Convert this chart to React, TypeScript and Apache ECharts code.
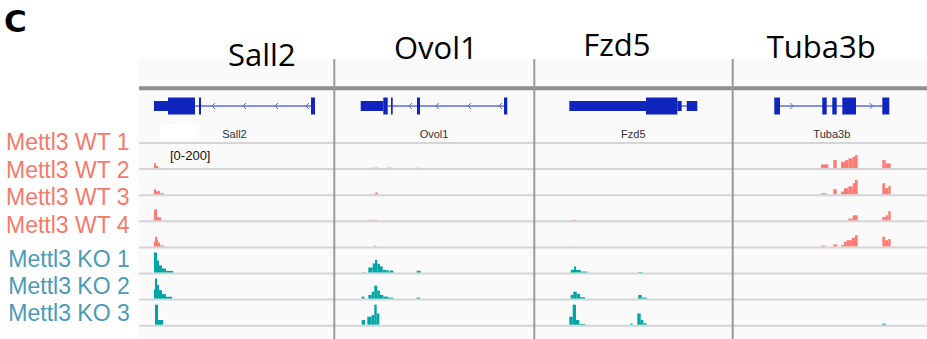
import React, { useEffect, useRef } from "react";
import * as echarts from "echarts";

// ---------- data ----------
const geneNames = ["Sall2", "Ovol1", "Fzd5", "Tuba3b"];
const trackLabels = [
  "Mettl3 WT 1", "Mettl3 WT 2", "Mettl3 WT 3", "Mettl3 WT 4",
  "Mettl3 KO 1", "Mettl3 KO 2", "Mettl3 KO 3",
];
const trackGroups = ["WT", "WT", "WT", "WT", "KO", "KO", "KO"];
const dataRangeLabel = "[0-200]";
const dataRangeMax = 200;
const locusBins = [195, 200, 198, 195];

// exons: [start, end, kind] kind 1 = UTR, 2 = CDS
const sall2Exons = [[15, 29, 1], [29, 56, 2], [60, 62, 2], [172, 176, 2]];
const ovol1Exons = [[26.7, 49.3, 1], [49.3, 53.7, 2], [57, 58.7, 2], [83, 86, 2], [170, 173.3, 2]];
const fzd5Exons = [[35.3, 112, 1], [112, 143.3, 2], [143.3, 147.7, 1], [152.7, 163.3, 1]];
const tuba3bExons = [[42.3, 48, 2], [90.3, 94.7, 2], [100.3, 104.7, 2], [110.3, 124, 2], [150.3, 157.3, 2]];
const geneIntrons = [[56, 172], [53.7, 170], [147.7, 152.7], [48, 150.3]];
const geneStrands = [-1, -1, -1, 1];
const sall2Arrows = [74, 105, 137, 168];
const ovol1Arrows = [76, 102.7, 135, 166];
const fzd5Arrows: number[] = [];
const tuba3bArrows = [60.3, 139.7];

// coverage: per track, [binStart, binEnd, value]
const sall2Coverage = [
  [[15, 17, 44], [17, 19, 23], [19, 22, 11]],
  [[15, 17, 46], [17, 21, 31], [21, 25, 15], [26, 28, 8]],
  [[15, 18, 92], [18, 22, 31]],
  [[15, 16, 46], [16, 18, 82], [18, 19, 61], [19, 21, 38], [21, 25, 15]],
  [[15, 18, 161], [18, 20, 100], [20, 23, 62], [23, 27, 38], [27, 34, 20]],
  [[9, 10, 8], [15, 16, 77], [16, 18, 161], [18, 20, 112], [20, 23, 72], [23, 27, 42], [27, 33, 22]],
  [[9, 11, 8], [16, 19, 161], [19, 24, 44], [26, 29, 8]],
];
const ovol1Coverage = [
  [[35, 37, 11], [38.7, 44, 11], [52.7, 57.7, 11], [82.7, 84.7, 11]],
  [[35, 38.3, 10], [40.3, 41.7, 15], [41.7, 43, 23], [43, 44.3, 15]],
  [[35, 37, 11], [38.7, 43.3, 11]],
  [[35, 40.3, 8], [40.3, 41.7, 15], [41.7, 49.3, 8]],
  [[29.3, 31.7, 11], [34.3, 38.7, 46], [38.7, 41, 77], [41, 43.3, 105], [43.3, 46, 74], [46, 48.7, 54], [48.7, 52.7, 28], [52.7, 55.3, 23], [56, 59.3, 23], [82.7, 86.7, 21]],
  [[27.7, 30.3, 23], [30.3, 33.3, 8], [34.3, 37.7, 36], [37.7, 40.3, 61], [40.3, 43.3, 107], [43.3, 46, 69], [46, 49.3, 36], [49.3, 54.3, 23], [54.3, 59.3, 15], [82.7, 86, 15]],
  [[27.7, 31, 44], [31, 33.3, 8], [33.3, 37.7, 69], [37.7, 40.3, 82], [40.3, 42.7, 161], [42.7, 45.3, 94]],
];
const fzd5Coverage = [
  [],
  [],
  [[37.7, 42.7, 11]],
  [[41, 42.7, 11]],
  [[36.7, 40, 28], [40, 42, 54], [42, 46.7, 28], [46.7, 53.3, 15], [104.3, 108.7, 11]],
  [[36.7, 39.3, 36], [39.3, 42.7, 61], [42.7, 46, 44], [46, 51, 18], [104.3, 107.7, 36], [107.7, 112.7, 15]],
  [[35.3, 38.7, 69], [38.7, 42, 161], [42, 45.3, 44], [45.3, 51, 13], [96, 98.7, 15], [103.3, 106.7, 94], [106.7, 109.3, 44], [109.3, 112.7, 18]],
];
const tuba3bCoverage = [
  [[89, 96.3, 36], [101.3, 104.7, 69], [109, 113, 56], [113, 116.3, 69], [116.3, 120.7, 82], [120.7, 123, 94], [123, 125.7, 107], [150.3, 153.7, 69], [153.7, 158.7, 44]],
  [[89, 94.7, 15], [101.3, 104.7, 46], [109, 112, 28], [112, 116.3, 54], [116.3, 120.7, 67], [120.7, 123, 92], [123, 125.7, 117], [150.3, 153, 92], [153, 156.3, 54], [156.3, 158.7, 71]],
  [[116.3, 120.7, 21], [120.7, 125.7, 46], [150.3, 153.7, 33], [153.7, 156.3, 46], [156.3, 158.7, 77]],
  [[89, 94, 13], [101.3, 105.3, 23], [109, 112, 18], [112, 114.7, 44], [114.7, 119.7, 56], [119.7, 123, 74], [123, 125.7, 94], [150.3, 153, 82], [153, 156.3, 56], [156.3, 158.7, 64]],
  [],
  [],
  [[150.3, 154, 15]],
];

const allExons = [sall2Exons, ovol1Exons, fzd5Exons, tuba3bExons];
const allArrows = [sall2Arrows, ovol1Arrows, fzd5Arrows, tuba3bArrows];
const allCoverage = [sall2Coverage, ovol1Coverage, fzd5Coverage, tuba3bCoverage];

// ---------- layout / style ----------
const PANEL_LEFT = [139, 334, 534, 732];
const SEPARATOR_X = [333.3, 533.3, 731.7];
const GRID_TOP = 88;
const GRID_HEIGHT = 251;
const Y_MIN = -2.1073;
const Y_MAX = 7.5096;
const GENE_ROW = -1.4176;
const GENE_LABEL_ROW = -0.345;
const WT_FILL = "#FF7C74";
const KO_FILL = "#00A6A6";
const WT_TEXT = "#F57A6C";
const KO_TEXT = "#4A9BB8";
const GENE_BLUE = "#1024BE";
const ARROW_BLUE = "#5266DE";
const SANS = '"Liberation Sans", Arial, sans-serif';
const TITLE_FONT = '"Open Sans", sans-serif';

const TITLE_POS = [
  { x: 228, y: 53.8, z: 6 },
  { x: 394, y: 47, z: 0 },
  { x: 583.3, y: 43.8, z: 6 },
  { x: 766.7, y: 45.5, z: 0 },
];
const LABEL_Y = [141.7, 170, 197.2, 225.3, 259.2, 285.8, 312.8];

function geneItems(p: number) {
  const exons = allExons[p];
  const intr = geneIntrons[p];
  const items: number[][] = [[0, intr[0], intr[1]]];
  allArrows[p].forEach((a) => items.push([3, a, geneStrands[p]]));
  exons.forEach((e) => items.push([e[2], e[0], e[1]]));
  const lo = Math.min(...exons.map((e) => e[0]));
  const hi = Math.max(...exons.map((e) => e[1]));
  items.push([4, (lo + hi) / 2, 0]);
  return items;
}

function coverageItems(p: number) {
  const out: number[][] = [];
  allCoverage[p].forEach((track, t) => track.forEach((s) => out.push([s[0], s[1], s[2], t])));
  return out;
}

export default function App() {
  const ref = useRef<HTMLDivElement>(null);
  useEffect(() => {
    if (!ref.current) return;
    const chart = echarts.init(ref.current, undefined, { renderer: "svg" });

    const grids = geneNames.map((_, p) => ({
      left: PANEL_LEFT[p], top: GRID_TOP, width: locusBins[p], height: GRID_HEIGHT,
    }));
    const xAxes = geneNames.map((_, p) => ({
      type: "value", gridIndex: p, min: 0, max: locusBins[p], show: false,
    }));
    const yAxes = geneNames.map((_, p) => ({
      type: "value", gridIndex: p, min: Y_MIN, max: Y_MAX, inverse: true, show: false,
    }));

    const series: any[] = [];
    geneNames.forEach((name, p) => {
      series.push({
        type: "custom", xAxisIndex: p, yAxisIndex: p, silent: true, z: 2,
        data: trackLabels.map((_, i) => [i]).concat([[trackLabels.length]]),
        renderItem: (params: any, api: any) => {
          const y = api.coord([0, api.value(0)])[1];
          const cs = params.coordSys;
          return {
            type: "line",
            shape: { x1: cs.x, y1: y, x2: cs.x + cs.width + 2, y2: y },
            style: { stroke: "#D5D5D8", lineWidth: 2 },
          };
        },
      });
      series.push({
        type: "custom", xAxisIndex: p, yAxisIndex: p, silent: true, z: 3,
        data: coverageItems(p),
        renderItem: (params: any, api: any) => {
          const x0 = api.value(0), x1 = api.value(1), v = api.value(2), t = api.value(3);
          const base = api.coord([x0, t + 1]);
          const top = api.coord([x1, t + 1 - v / dataRangeMax]);
          return {
            type: "rect",
            shape: { x: base[0], y: top[1], width: top[0] - base[0], height: base[1] - top[1] - 1 },
            style: { fill: trackGroups[t] === "WT" ? WT_FILL : KO_FILL },
          };
        },
      });
      series.push({
        type: "custom", xAxisIndex: p, yAxisIndex: p, silent: true, z: 4,
        data: geneItems(p),
        renderItem: (params: any, api: any) => {
          const kind = api.value(0), a = api.value(1), b = api.value(2);
          const pa = api.coord([a, GENE_ROW]);
          const cy = pa[1];
          if (kind === 0) {
            const pb = api.coord([b, GENE_ROW]);
            return { type: "line", shape: { x1: pa[0], y1: cy, x2: pb[0], y2: cy }, style: { stroke: GENE_BLUE, lineWidth: 1 } };
          }
          if (kind === 1 || kind === 2) {
            const pb = api.coord([b, GENE_ROW]);
            const h = kind === 2 ? 17 : 10;
            return { type: "rect", shape: { x: pa[0], y: cy - h / 2, width: Math.max(pb[0] - pa[0], 1.5), height: h }, style: { fill: GENE_BLUE } };
          }
          if (kind === 3) {
            const d = b < 0 ? 1 : -1;
            return {
              type: "polyline",
              shape: { points: [[pa[0] + 2 * d, cy - 3], [pa[0] - d, cy], [pa[0] + 2 * d, cy + 3]] },
              style: { stroke: ARROW_BLUE, fill: "none", lineWidth: 1 },
            };
          }
          const pl = api.coord([a, GENE_LABEL_ROW]);
          return {
            type: "text",
            style: {
              text: name, x: pl[0], y: pl[1], fill: "#333", font: `11px ${SANS}`,
              textAlign: "center", align: "center", textVerticalAlign: "middle", verticalAlign: "middle",
            },
          };
        },
      });
    });

    const graphic: any[] = [
      { type: "rect", z: 1, silent: true, shape: { x: 139, y: 59, width: 788, height: 280 }, style: { fill: "#FAFAFA" } },
      { type: "rect", z: 5, silent: true, shape: { x: 139, y: 86.3, width: 788, height: 4 }, style: { fill: "#8E8E8E" } },
      ...SEPARATOR_X.map((x) => ({ type: "rect", z: 5, silent: true, shape: { x, y: 59, width: 2, height: 280 }, style: { fill: "#9A9A9A" } })),
      { type: "rect", z: 5, silent: true, shape: { x: 160, y: 124, width: 39, height: 16 }, style: { fill: "#FFFFFF" } },
      {
        type: "text", z: 6, silent: true,
        style: { text: dataRangeLabel, x: 170, y: 155, fill: "#111", font: `13px ${SANS}`, textAlign: "left", align: "left", textVerticalAlign: "middle", verticalAlign: "middle" },
      },
      {
        type: "text", z: 6, silent: true,
        style: {
          text: "C", x: 4, y: 21, fill: "#000",
          font: `bold 31px "DejaVu Sans", sans-serif`,
          textAlign: "left", align: "left", textVerticalAlign: "middle", verticalAlign: "middle",
        },
      },
      ...geneNames.map((g, p) => ({
        type: "text", z: TITLE_POS[p].z, silent: true,
        style: { text: g, x: TITLE_POS[p].x, y: TITLE_POS[p].y, fill: "#000", font: `31px ${TITLE_FONT}`, textAlign: "left", align: "left", textVerticalAlign: "middle", verticalAlign: "middle" },
      })),
      ...trackLabels.map((lab, i) => ({
        type: "text", z: 6, silent: true,
        style: {
          text: lab, x: trackGroups[i] === "WT" ? 6 : 8.3, y: LABEL_Y[i],
          fill: trackGroups[i] === "WT" ? WT_TEXT : KO_TEXT, font: `23px ${SANS}`,
          textAlign: "left", align: "left", textVerticalAlign: "middle", verticalAlign: "middle",
        },
      })),
    ];

    chart.setOption({
      animation: false,
      backgroundColor: "#FFFFFF",
      grid: grids,
      xAxis: xAxes,
      yAxis: yAxes,
      series,
      graphic,
    });
    return () => chart.dispose();
  }, []);
  return <div ref={ref} style={{ position: "fixed", left: 0, top: 0, width: 927, height: 339 }} />;
}
